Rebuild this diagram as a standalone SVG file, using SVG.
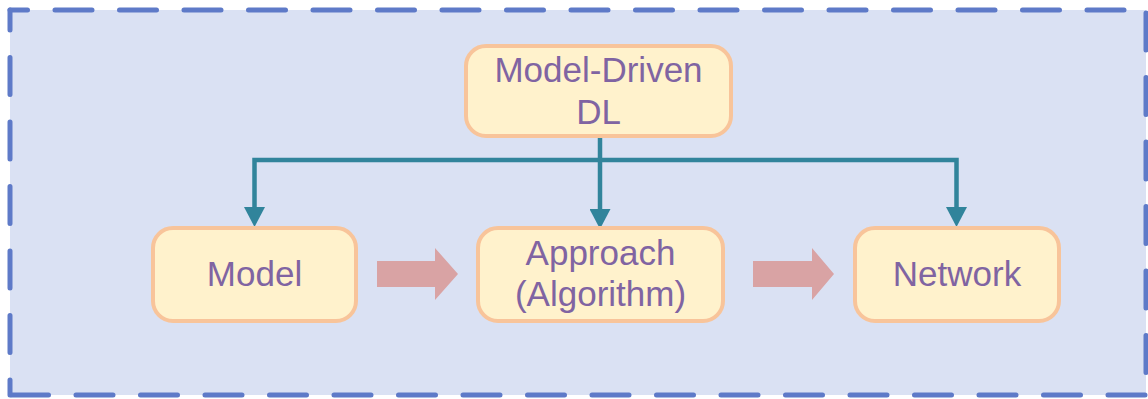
<svg xmlns="http://www.w3.org/2000/svg" width="1148" height="399" viewBox="0 0 1148 399">
<defs>
<style>
.frame{stroke:#5e7ac8;stroke-width:5;stroke-linecap:round;stroke-dasharray:37 27.5;fill:none}
.node rect{fill:#fff2cc;stroke:#f8c49a;stroke-width:4}
.node text{font-family:"Liberation Sans",Arial,sans-serif;font-size:35px;fill:#8064a2;text-anchor:middle}
.conn{fill:none;stroke:#31849b;stroke-width:4.5;stroke-linejoin:miter}
.block{fill:#d9a3a4}
</style>
<marker id="ah" markerUnits="userSpaceOnUse" markerWidth="20" markerHeight="21" viewBox="0 0 20 21" refX="0" refY="10.5" orient="auto">
<path d="M0,0 L20,10.5 L0,21 Z" fill="#31849b"/>
</marker>
</defs>
<rect x="10" y="10" width="1136" height="385" fill="#dae1f3"/>
<g id="frame">
<line class="frame" x1="10" y1="10" x2="1146" y2="10" stroke-dashoffset="19.5"/>
<line class="frame" x1="1146" y1="10" x2="1146" y2="395" stroke-dashoffset="61.5"/>
<line class="frame" x1="1146" y1="395" x2="10" y2="395" stroke-dashoffset="63.5"/>
<line class="frame" x1="10" y1="395" x2="10" y2="10" stroke-dashoffset="22"/>
</g>
<g id="connectors">
<path class="conn" d="M600,160 H254.5 V207" marker-end="url(#ah)"/>
<path class="conn" d="M600,138 V209" marker-end="url(#ah)"/>
<path class="conn" d="M600,160 H956.5 V207" marker-end="url(#ah)"/>
<polygon class="block" points="377,261 435,261 435,248 458,274 435,300 435,287 377,287"/>
<polygon class="block" points="753,261 812,261 812,248 834,274 812,300 812,287 753,287"/>
</g>
<g id="node-model-driven" class="node">
<rect x="466" y="46" width="265" height="90" rx="20"/>
<text x="598.5" y="82">Model-Driven</text>
<text x="598.5" y="124">DL</text>
</g>
<g id="node-model" class="node">
<rect x="153" y="228" width="203" height="93" rx="20"/>
<text x="254.5" y="286">Model</text>
</g>
<g id="node-approach" class="node">
<rect x="478" y="228" width="245" height="93" rx="20"/>
<text x="600.5" y="265">Approach</text>
<text x="600.5" y="306">(Algorithm)</text>
</g>
<g id="node-network" class="node">
<rect x="855" y="228" width="204" height="93" rx="20"/>
<text x="957" y="286">Network</text>
</g>
</svg>
